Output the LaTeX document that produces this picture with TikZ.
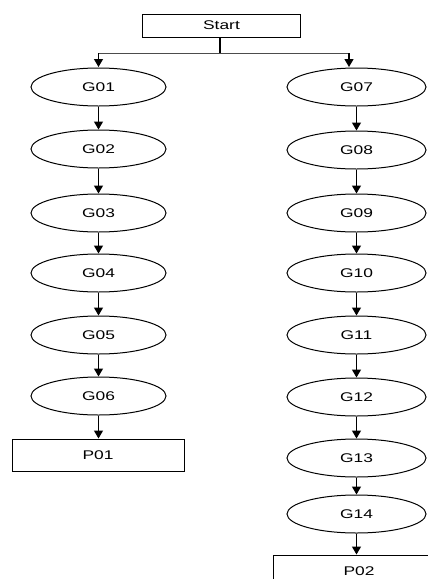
\documentclass[tikz,border=0pt]{standalone}
\usepackage{fontspec}
\setmainfont{Liberation Sans}
\usetikzlibrary{shapes.geometric,arrows.meta}
\newcommand{\lbl}[1]{\scalebox{1.38}[1]{#1}}
\begin{document}
\begin{tikzpicture}[x=1pt,y=-1pt,
  every node/.style={font=\fontsize{12.6}{14}\selectfont},
  gnode/.style={draw,ellipse,line width=1pt,inner sep=0pt,minimum height=38pt},
  gl/.style={gnode,minimum width=135pt},
  gr/.style={gnode,minimum width=139pt},
  boxnode/.style={draw,rectangle,line width=1pt,inner sep=0pt},
  arr/.style={-{Triangle[width=9pt,length=8pt]},line width=1.3pt}]
\useasboundingbox (0,0) rectangle (428,579);
\clip (0,0) rectangle (428,579);
\node[boxnode,minimum width=158pt,minimum height=23pt] (start) at (221.5,25.5) {\lbl{Start}};
% left column
\node[gl] (g01) at (98.5,87) {\lbl{G01}};
\node[gl] (g02) at (98.5,149) {\lbl{G02}};
\node[gl] (g03) at (98.5,213) {\lbl{G03}};
\node[gl] (g04) at (98.5,273) {\lbl{G04}};
\node[gl] (g05) at (98.5,335) {\lbl{G05}};
\node[gl] (g06) at (98.5,396) {\lbl{G06}};
\node[boxnode,minimum width=172pt,minimum height=32pt] (p01) at (98,455) {\lbl{P01}};
% right column
\node[gr] (g07) at (356.5,87) {\lbl{G07}};
\node[gr] (g08) at (356.5,150) {\lbl{G08}};
\node[gr] (g09) at (356.5,213) {\lbl{G09}};
\node[gr] (g10) at (356.5,273) {\lbl{G10}};
\node[gr] (g11) at (356.5,335) {\lbl{G11}};
\node[gr] (g12) at (356.5,397) {\lbl{G12}};
\node[gr] (g13) at (356.5,458) {\lbl{G13}};
\node[gr] (g14) at (356.5,514) {\lbl{G14}};
\node[boxnode,minimum width=172pt,minimum height=32pt] (p02) at (359,571) {\lbl{P02}};
% split from start
\coordinate (jm) at (220,53);
\coordinate (jl) at (98.5,53);
\coordinate (jr) at (349,53);
\coordinate (tl) at (98.5,67);
\coordinate (tr) at (349,67);
\draw[line width=1.8pt] (start.south -| jm) -- (jm);
\draw[line width=1pt,black!70] (jl) -- (jr);
\draw[arr] (jl) -- (tl);
\draw[arr] (jr) -- (tr);
% chains
\foreach \a/\b in {g01/g02,g02/g03,g03/g04,g04/g05,g05/g06,g06/p01,
  g07/g08,g08/g09,g09/g10,g10/g11,g11/g12,g12/g13,g13/g14,g14/p02}
  \draw[arr] (\a.south) -- (\a.south |- \b.north);
\end{tikzpicture}
\end{document}
